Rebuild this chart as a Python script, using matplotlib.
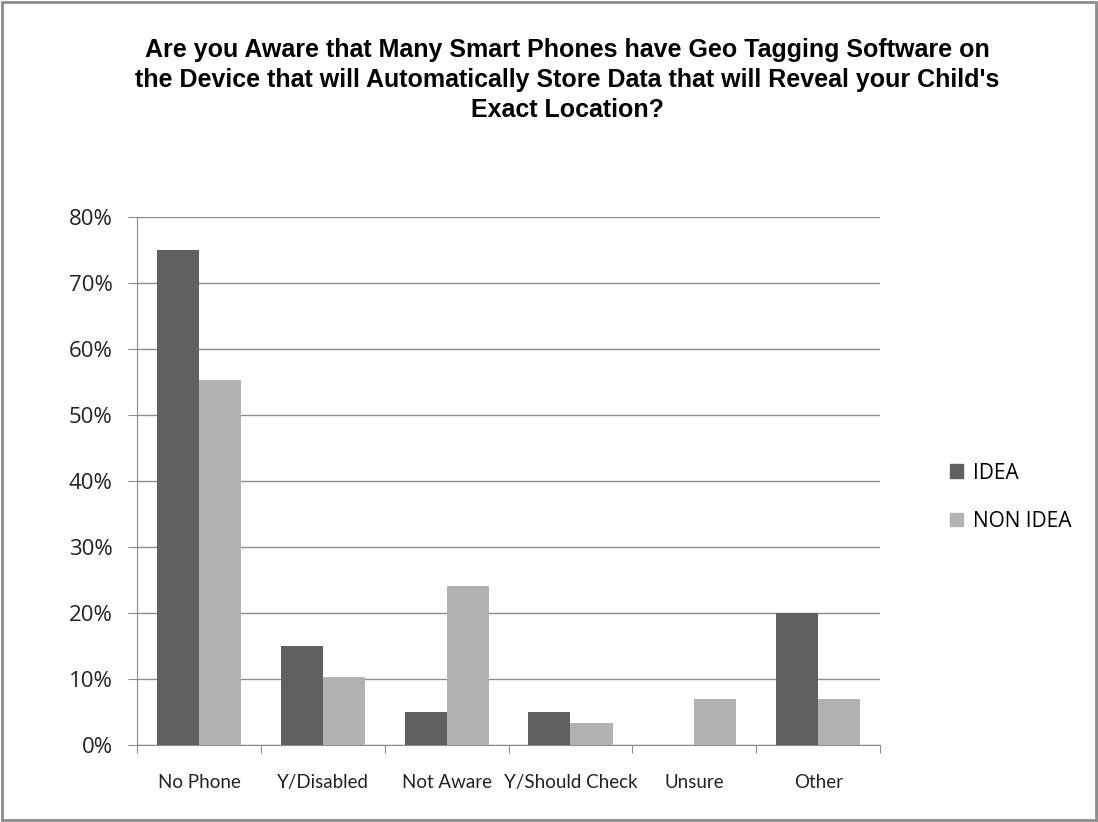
import numpy as np
import matplotlib.pyplot as plt
import matplotlib.patches as mpatches
from matplotlib.ticker import PercentFormatter

# survey answers, share of respondents (%)
categories = ["No Phone", "Y/Disabled", "Not Aware", "Y/Should Check", "Unsure", "Other"]
idea = [75, 15, 5, 5, 0, 20]
non_idea = [55.3, 10.3, 24.1, 3.4, 6.9, 6.9]

COLOR_IDEA = "#606060"
COLOR_NON = "#B2B2B2"
GRID = "#8C8C8C"

fig = plt.figure(figsize=(10.98, 8.22), dpi=100)
fig.patch.set_facecolor("white")
ax = fig.add_axes([0.1248, 0.0937, 0.8015 - 0.1248, 0.736 - 0.0937])

x = np.arange(len(categories))
w = 0.34
ax.bar(x - w / 2, idea, w, color=COLOR_IDEA, zorder=3, edgecolor="none")
ax.bar(x + w / 2, non_idea, w, color=COLOR_NON, zorder=3, edgecolor="none")

ax.set_xlim(-0.5, len(categories) - 0.5)
ax.set_ylim(0, 80)
ax.set_yticks(np.arange(0, 81, 10))
ax.yaxis.set_major_formatter(PercentFormatter(decimals=0))
ax.grid(axis="y", color=GRID, linewidth=1, zorder=0)

# category boundaries get the tick marks, names sit in between
ax.set_xticks(np.arange(-0.5, len(categories), 1))
ax.set_xticklabels([])
ax.set_xticks(x, minor=True)
ax.set_xticklabels(categories, minor=True, fontsize=13.5, family="Lato")
ax.tick_params(axis="x", which="minor", length=0, pad=21, colors="#222222")
ax.tick_params(axis="x", which="major", length=5.5, color=GRID, direction="out")
ax.tick_params(axis="y", length=6.5, color=GRID, direction="out", pad=11,
               labelsize=16, labelcolor="#222222")
for lab in ax.get_yticklabels():
    lab.set_family("Open Sans")

for s in ["top", "right"]:
    ax.spines[s].set_visible(False)
ax.spines["left"].set_color(GRID)
ax.spines["bottom"].set_color(GRID)

fig.text(0.517, 0.903,
         "Are you Aware that Many Smart Phones have Geo Tagging Software on\n"
         "the Device that will Automatically Store Data that will Reveal your Child's\n"
         "Exact Location?",
         ha="center", va="center", fontsize=18, fontweight="bold",
         family="Liberation Sans", linespacing=1.32)

handles = [mpatches.Patch(color=COLOR_IDEA, label="IDEA"),
           mpatches.Patch(color=COLOR_NON, label="NON IDEA")]
fig.legend(handles=handles, loc="center left", bbox_to_anchor=(0.848, 0.395),
           frameon=False, handlelength=0.65, handleheight=0.65,
           handletextpad=0.45, labelspacing=1.3, prop={"family": "Open Sans", "size": 15})

# outer frame
fig.add_artist(mpatches.Rectangle((0.002, 0.002), 0.996, 0.996, transform=fig.transFigure,
                                  fill=False, edgecolor="#8C8C8C", linewidth=2))

fig.savefig("out.png", dpi=100)
